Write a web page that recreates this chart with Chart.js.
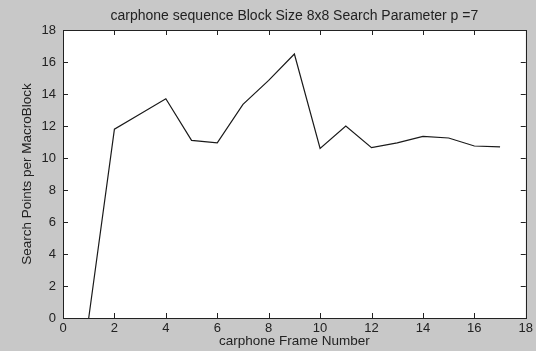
<!DOCTYPE html>
<html>
<head>
<meta charset="utf-8">
<script src="https://cdn.jsdelivr.net/npm/chart.js@4/dist/chart.umd.min.js"></script>
<style>
  html, body { margin: 0; padding: 0; background: #c8c8c8; }
  #wrap { width: 536px; height: 351px; }
</style>
</head>
<body>
<div id="wrap"><canvas id="plot" width="536" height="351"></canvas></div>
<script>
// frame numbers and search points
const frameNumbers = [1, 2, 3, 4, 5, 6, 7, 8, 9, 10, 11, 12, 13, 14, 15, 16, 17];
const searchPoints = [0, 11.8, 12.75, 13.7, 11.1, 10.95, 13.35, 14.85, 16.5, 10.6, 12.0, 10.65, 10.95, 11.35, 11.25, 10.75, 10.7];
const xTicks = [0, 2, 4, 6, 8, 10, 12, 14, 16, 18];
const yTicks = [0, 2, 4, 6, 8, 10, 12, 14, 16, 18];

const titleText = "carphone sequence Block Size 8x8 Search Parameter p =7";
const xLabel = "carphone Frame Number";
const yLabel = "Search Points per MacroBlock";

const points = frameNumbers.map((f, i) => ({x: f, y: searchPoints[i]}));

const family = "'Liberation Sans', Arial, sans-serif";
const tickFont = {family: family, size: 13};
const labelFont = {family: family, size: 13.5};

//matlab style box: white axes, border all round, ticks pointing in
const boxPlugin = {
    id: "box",
    beforeDraw(chart) {
        const {ctx, chartArea: a} = chart;
        ctx.save();
        ctx.fillStyle = "#c8c8c8";
        ctx.fillRect(0, 0, chart.width, chart.height);
        ctx.fillStyle = "#ffffff";
        ctx.fillRect(a.left, a.top, a.right - a.left, a.bottom - a.top);
        ctx.restore();
    },
    afterDraw(chart) {
        const {ctx, chartArea: a, scales} = chart;
        const len = 5;
        ctx.save();
        ctx.strokeStyle = "#222";
        ctx.lineWidth = 1;
        ctx.beginPath();
        xTicks.forEach(v => {
            const px = Math.round(scales.x.getPixelForValue(v)) + 0.5;
            ctx.moveTo(px, a.bottom); ctx.lineTo(px, a.bottom - len);
            ctx.moveTo(px, a.top); ctx.lineTo(px, a.top + len);
        });
        yTicks.forEach(v => {
            const py = Math.round(scales.y.getPixelForValue(v)) + 0.5;
            ctx.moveTo(a.left, py); ctx.lineTo(a.left + len, py);
            ctx.moveTo(a.right, py); ctx.lineTo(a.right - len, py);
        });
        ctx.stroke();
        ctx.strokeRect(Math.round(a.left) + 0.5, Math.round(a.top) + 0.5,
            Math.round(a.right - a.left), Math.round(a.bottom - a.top));

        //title sits centred over the axes box, not the whole figure
        ctx.fillStyle = "#222";
        ctx.font = "14px " + family;
        ctx.textAlign = "center";
        ctx.textBaseline = "middle";
        ctx.fillText(titleText, (a.left + a.right) / 2, 16);
        ctx.restore();
    }
};

new Chart(document.getElementById("plot"), {
    type: "line",
    data: {
        datasets: [{
            data: points,
            borderColor: "#1a1a1a",
            borderWidth: 1.2,
            pointRadius: 0,
            tension: 0,
            fill: false
        }]
    },
    options: {
        responsive: false,
        animation: false,
        layout: {padding: {left: 0, right: 10, top: 30, bottom: 0}},
        plugins: {
            legend: {display: false},
            tooltip: {enabled: false},
            title: {display: false}
        },
        scales: {
            x: {
                type: "linear",
                min: 0, max: 18,
                afterBuildTicks: s => { s.ticks = xTicks.map(v => ({value: v})); },
                afterFit: s => { s.height = 33; },
                grid: {display: false, drawTicks: false},
                border: {display: false},
                ticks: {color: "#222", font: tickFont, padding: 3, maxRotation: 0},
                title: {display: true, text: xLabel, color: "#222", font: labelFont, padding: {top: 0, bottom: 1.5}}
            },
            y: {
                min: 0, max: 18,
                afterBuildTicks: s => { s.ticks = yTicks.map(v => ({value: v})); },
                afterFit: s => { s.width = 63; },
                grid: {display: false, drawTicks: false},
                border: {display: false},
                ticks: {color: "#222", font: tickFont, padding: 7},
                title: {display: true, text: yLabel, color: "#222", font: labelFont, padding: {top: 19, bottom: 0}}
            }
        }
    },
    plugins: [boxPlugin]
});
</script>
</body>
</html>
